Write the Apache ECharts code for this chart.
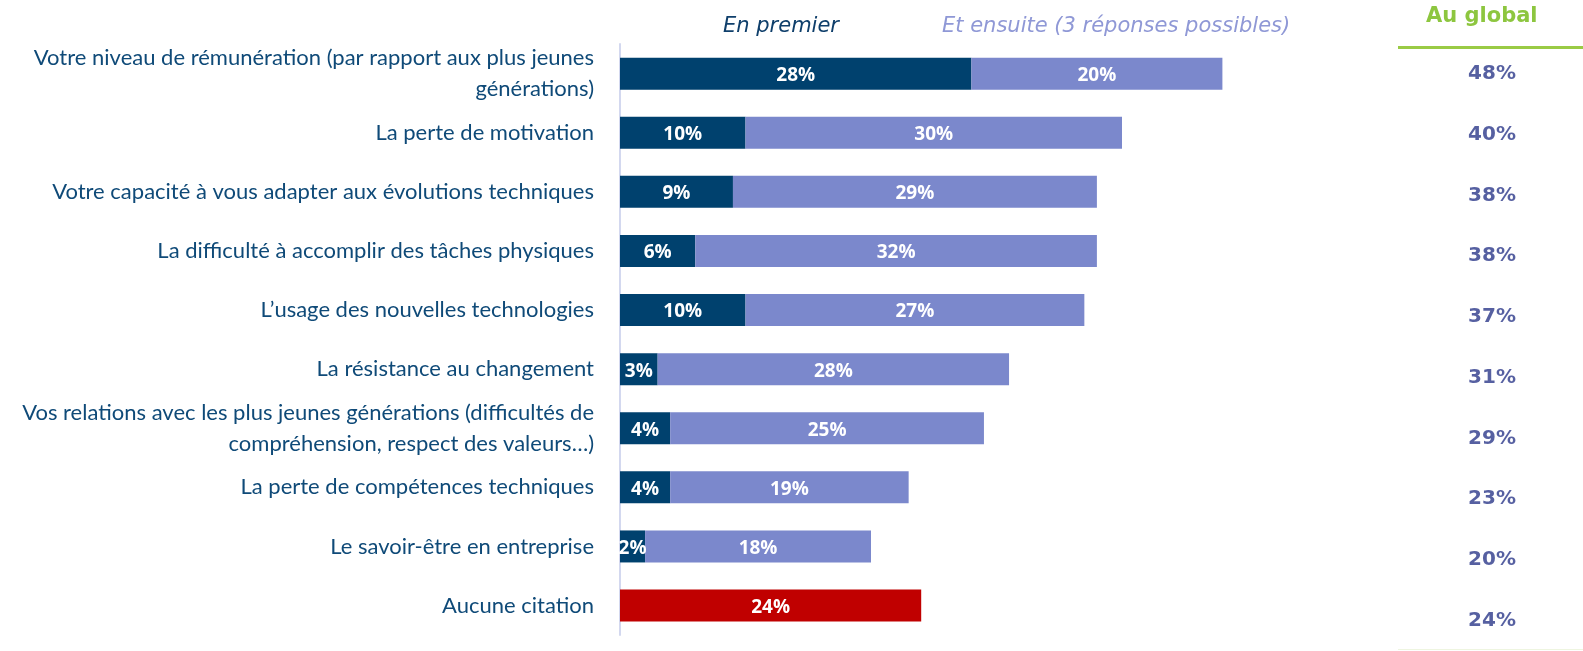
<!DOCTYPE html>
<html>
<head>
<meta charset="utf-8">
<script src="https://cdn.jsdelivr.net/npm/echarts@6/dist/echarts.min.js"></script>
<style>
  html, body { margin: 0; padding: 0; background: #fff; }
  #chart { width: 1583px; height: 651px; }
</style>
</head>
<body>
<div id="chart"></div>
<script>
const categories = [
  'Votre niveau de rémunération (par rapport aux plus jeunes\ngénérations)',
  'La perte de motivation',
  'Votre capacité à vous adapter aux évolutions techniques',
  'La difficulté à accomplir des tâches physiques',
  'L\u2019usage des nouvelles technologies',
  'La résistance au changement',
  'Vos relations avec les plus jeunes générations (difficultés de\ncompréhension, respect des valeurs\u2026)',
  'La perte de compétences techniques',
  'Le savoir-être en entreprise',
  'Aucune citation'
];
const enPremier = [28, 10, 9, 6, 10, 3, 4, 4, 2, null];
const ensuite = [20, 30, 29, 32, 27, 28, 25, 19, 18, null];
const aucune = [null, null, null, null, null, null, null, null, null, 24];
const auGlobal = [48, 40, 38, 38, 37, 31, 29, 23, 20, 24];

const chart = echarts.init(document.getElementById('chart'));

const barLabel = {
  show: true,
  position: 'inside',
  offset: [0, 2],
  color: '#fff',
  fontFamily: '"Liberation Sans Narrow", "Open Sans"',
  fontWeight: 'bold',
  fontSize: 19,
  formatter: p => p.value + '%'
};

const option = {
  animation: false,
  grid: [
    { left: 620, width: 753, top: 44.1, height: 591 },
    { left: 1410, width: 164, top: 43.6, height: 614.6 }
  ],
  xAxis: [
    { gridIndex: 0, type: 'value', min: 0, max: 60, show: false },
    { gridIndex: 1, type: 'value', min: 0, max: 2, show: false }
  ],
  yAxis: [
    {
      gridIndex: 0,
      type: 'category',
      inverse: true,
      data: categories,
      axisLine: { show: true, lineStyle: { color: '#d3d8ef', width: 2 } },
      axisTick: { show: false },
      axisLabel: {
        margin: 26,
        color: '#0f4a78',
        fontFamily: 'Lato',
        fontSize: 22,
        lineHeight: 31,
        align: 'right'
      }
    },
    {
      gridIndex: 1,
      type: 'category',
      inverse: true,
      data: categories,
      show: false
    }
  ],
  graphic: [
    { type: 'text', left: 723, top: 16, style: { text: 'En premier', fill: '#0f3f6b', font: 'italic 21px "DejaVu Sans"' } },
    { type: 'text', left: 942, top: 16, style: { text: 'Et ensuite (3 réponses possibles)', fill: '#8f98d6', font: 'italic 21px "DejaVu Sans"' } },
    { type: 'text', left: 1426, top: 6, style: { text: 'Au global', fill: '#8dc63f', font: 'bold 21px "DejaVu Sans"' } },
    { type: 'rect', shape: { x: 1398, y: 46, width: 185, height: 3 }, style: { fill: '#9acb45' } },
    { type: 'rect', shape: { x: 1398, y: 649, width: 185, height: 1 }, style: { fill: '#eef5e0' } }
  ],
  series: [
    {
      name: 'En premier',
      type: 'bar',
      stack: 'total',
      barWidth: 32,
      data: enPremier,
      itemStyle: { color: '#00416e' },
      label: barLabel
    },
    {
      name: 'Et ensuite',
      type: 'bar',
      stack: 'total',
      barWidth: 32,
      data: ensuite,
      itemStyle: { color: '#7b88cc' },
      label: barLabel
    },
    {
      name: 'Aucune citation',
      type: 'bar',
      stack: 'total',
      barWidth: 32,
      data: aucune,
      itemStyle: { color: '#c00000' },
      label: barLabel
    },
    {
      name: 'Au global',
      type: 'scatter',
      xAxisIndex: 1,
      yAxisIndex: 1,
      symbolSize: 0,
      data: auGlobal.map((v, i) => ({ value: [1, i], g: v })),
      label: {
        show: true,
        position: 'inside',
        color: '#2c388a',
        fontFamily: 'DejaVu Sans',
        fontWeight: 'bold',
        fontSize: 20,
        formatter: p => p.data.g + '%'
      }
    }
  ]
};

chart.setOption(option);
window.addEventListener('resize', () => chart.resize());
</script>
</body>
</html>
